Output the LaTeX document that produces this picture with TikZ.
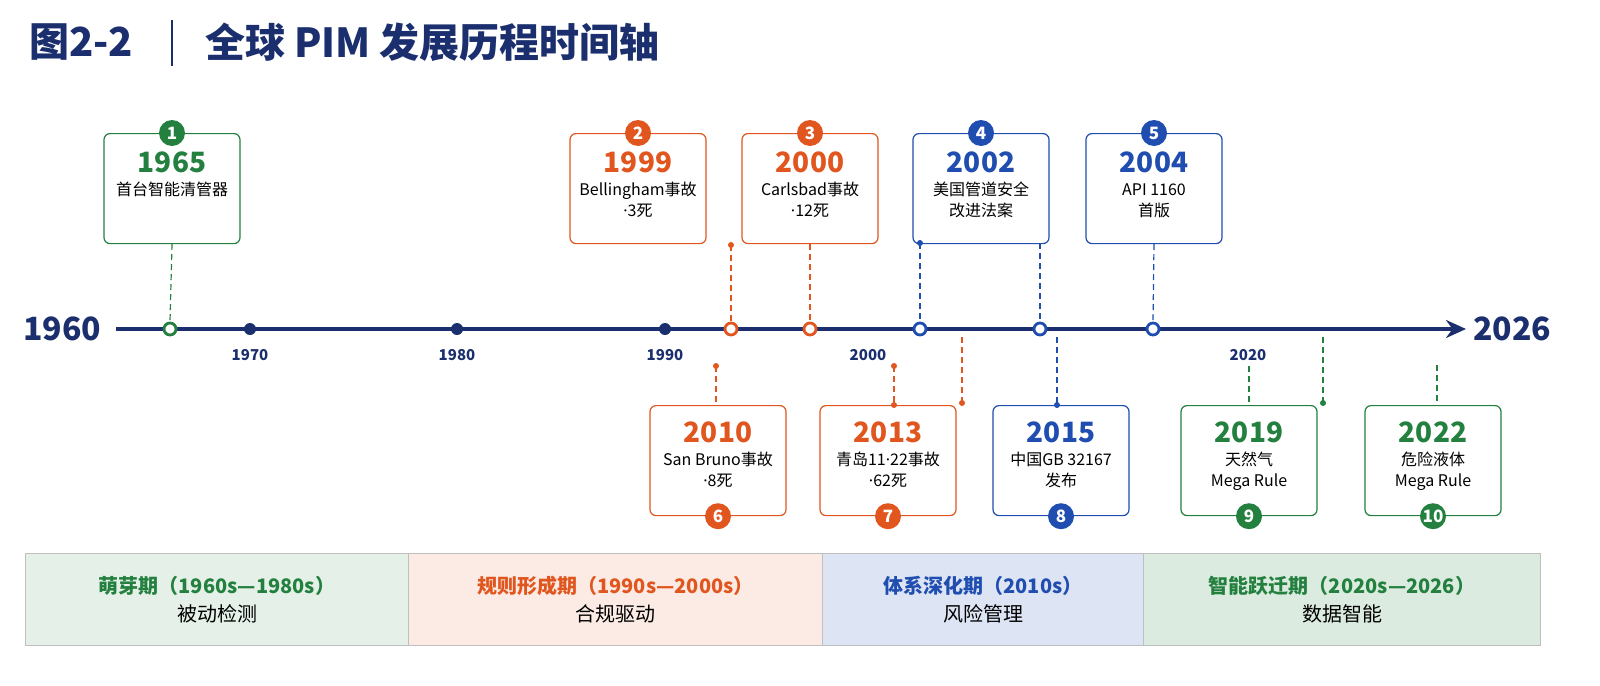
\documentclass[tikz,border=0pt]{standalone}
\usepackage{fontspec}
\setmainfont{Noto Sans CJK SC}
\newfontfamily\latfont{Noto Sans}
\newcommand{\md}{{\latfont ·}}
\usetikzlibrary{arrows.meta}
\definecolor{navy}{HTML}{1B2F6E}
\definecolor{cgreen}{HTML}{23803F}
\definecolor{corange}{HTML}{E0561E}
\definecolor{cblue}{HTML}{1F4DB0}
\begin{document}
\begin{tikzpicture}[x=0.5pt,y=-0.5pt,
    card/.style={draw=#1, fill=white, rounded corners=3pt, line width=0.6pt, minimum width=68pt, minimum height=55pt, align=center, font=\fontsize{8}{10.5}\selectfont, anchor=north},
    badge/.style={circle, fill=#1, text=white, inner sep=0pt, minimum size=13pt, font=\fontsize{8.5}{9}\selectfont\bfseries},
    link/.style={draw=#1, densely dashed, line width=0.6pt},
    ring/.style={circle, draw=#1, fill=white, line width=1.4pt, inner sep=0pt, minimum size=6pt},
    band/.style={draw=gray!50, line width=0.5pt, minimum height=46pt, anchor=north west, align=center, font=\fontsize{10}{14}\selectfont}
  ]
    % title
    \node[anchor=west, text=navy, font=\fontsize{20}{22}\selectfont\bfseries] (title) at (22,42) {图2-2};
    \draw[navy, line width=0.8pt] (172,20) -- (172,66);
    \node[anchor=west, text=navy, font=\fontsize{20}{22}\selectfont\bfseries] (subtitle) at (198,42) {全球 PIM 发展历程时间轴};
    % axis
    \node[text=navy, font=\fontsize{16}{18}\selectfont\bfseries] (start) at (62,329) {1960};
    \node[text=navy, font=\fontsize{16}{18}\selectfont\bfseries] (end) at (1512,329) {2026};
    \draw[navy, line width=1.6pt, -{Stealth[length=10pt,width=9pt]}] (start.east) ++(8,0) coordinate (a0) -- (1466,329) coordinate (a1);
    \foreach \x/\t in {250/1970, 457/1980, 665/1990} {
      \fill[navy] (\x,329) circle (3pt);
      \node[text=navy, font=\fontsize{7.5}{8}\selectfont\bfseries] at (\x,355) {\t};
    }
    \foreach \x/\t in {868/2000, 1248/2020}
      \node[text=navy, font=\fontsize{7.5}{8}\selectfont\bfseries] at (\x,355) {\t};
    \foreach \x/\c [count=\i] in {170/cgreen, 731/corange, 810/corange, 920/cblue, 1040/cblue, 1153/cblue}
      \node[ring=\c] (r\i) at (\x,329) {};
    % upper cards
    \foreach \x/\c/\n/\y/\txt [count=\i] in {
        172/cgreen/1/1965/首台智能清管器\\\strut,
        638/corange/2/1999/Bellingham事故\\\md3死,
        810/corange/3/2000/Carlsbad事故\\\md12死,
        981/cblue/4/2002/美国管道安全\\改进法案,
        1154/cblue/5/2004/API 1160\\首版} {
      \node[card=\c] (u\i) at (\x,133) {\\[2pt]{\fontsize{14}{15}\selectfont\bfseries\color{\c}\y}\\[1pt]\txt\\[-4pt]};
      \node[badge=\c] (ub\i) at (u\i.north) {\n};
    }
    % lower cards
    \foreach \x/\c/\n/\y/\txt [count=\i] in {
        718/corange/6/2010/San Bruno事故\\\md8死,
        888/corange/7/2013/青岛11\md22事故\\\md62死,
        1061/cblue/8/2015/中国GB 32167\\发布,
        1249/cgreen/9/2019/天然气\\Mega Rule,
        1433/cgreen/10/2022/危险液体\\Mega Rule} {
      \node[card=\c] (d\i) at (\x,405) {\\[2pt]{\fontsize{14}{15}\selectfont\bfseries\color{\c}\y}\\[1pt]\txt\\[-2pt]};
      \node[badge=\c] (db\i) at (d\i.south) {\n};
    }
    % upper links
    \draw[link=cgreen] (u1.south) -- (r1.north);
    \draw[link=corange] (731,245) coordinate (c2) -- (r2.north);
    \fill[corange] (c2) circle (1.5pt);
    \draw[link=corange] (u3.south) -- (r3.north);
    \draw[link=cblue] (920,243) coordinate (c4) -- (r4.north);
    \fill[cblue] (c4) circle (1.5pt);
    \draw[link=cblue] (1040,243) coordinate (c5) -- (r5.north);
    \draw[link=cblue] (u5.south) -- (r6.north);
    % lower links
    \draw[link=corange] (716,366) coordinate (c6) -- (c6 |- d1.north);
    \fill[corange] (c6) circle (1.5pt);
    \draw[link=corange] (894,366) coordinate (c7) -- (c7 |- d2.north);
    \fill[corange] (c7) circle (1.5pt) (c7 |- d2.north) circle (1.5pt);
    \draw[link=corange] (962,337) coordinate (c8) -- (962,403) coordinate (c9);
    \fill[corange] (c9) circle (1.5pt);
    \draw[link=cblue] (1057,337) coordinate (c10) -- (c10 |- d3.north);
    \fill[cblue] (c10 |- d3.north) circle (1.5pt);
    \draw[link=cgreen] (u4.south -| d4.north) ++(0,122) coordinate (c11) -- (d4.north);
    \draw[link=cgreen] (1323,337) coordinate (c12) -- (1323,403) coordinate (c13);
    \fill[cgreen] (c13) circle (1.5pt);
    \draw[link=cgreen] (1437,365) coordinate (c14) -- (c14 |- d5.north);
    % phase bands
    \foreach \x/\w/\f/\c/\h/\s [count=\i] in {
        25/383/cgreen!12/cgreen/萌芽期（1960s—1980s）/被动检测,
        408/414/corange!12/corange/规则形成期（1990s—2000s）/合规驱动,
        822/321/cblue!15/cblue/体系深化期（2010s）/风险管理,
        1143/397/cgreen!16/cgreen/智能跃迁期（2020s—2026）/数据智能}
      \node[band, fill=\f, minimum width=\w*0.5pt] (p\i) at (\x,553) {{\color{\c}\bfseries\h}\\\s};
    \pgfresetboundingbox
    \useasboundingbox (0,0) rectangle (1600,685);
\end{tikzpicture}
\end{document}
